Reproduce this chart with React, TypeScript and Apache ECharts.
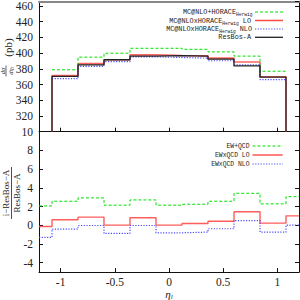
import React, { useEffect, useRef } from 'react';
import * as echarts from 'echarts';

// ---- data ----
const topEdges = [-1.08, -0.84, -0.6, -0.36, -0.12, 0.12, 0.36, 0.6, 0.84, 1.08];
const mcnloPlusHorace = [378.8, 394.9, 399.9, 406.2, 406.2, 404.9, 401.6, 396.2, 377.0];
const mcnloTimesHoraceLO = [371.6, 386.6, 391.6, 397.8, 397.0, 396.5, 393.7, 388.7, 370.0];
const mcnloTimesHoraceNLO = [367.5, 383.2, 389.1, 395.3, 394.4, 393.7, 390.3, 385.0, 366.2];
const resbosA = [370.4, 385.0, 391.6, 396.2, 396.9, 396.2, 392.5, 383.7, 369.5];

const ratioEdges = [-1.2, -1.08, -0.84, -0.6, -0.36, -0.12, 0.12, 0.36, 0.6, 0.84, 1.08, 1.2];
const ewPlusQcd = [2.07, 2.57, 2.93, 2.15, 2.71, 2.15, 2.25, 2.57, 3.42, 2.29, 3.06];
const ewTimesQcdLO = [-0.13, 0.59, 0.87, 0.02, 0.8, 0.02, 0.19, 0.44, 1.44, 0.23, 1.01];
const ewTimesQcdNLO = [-1.3, -0.4, -0.02, -0.87, -0.02, -0.8, -0.73, -0.37, 0.51, -0.73, 0.02];

const xTicks = [-1, -0.5, 0, 0.5, 1];
const topYMin = 300;
const topYMax = 466;
const ratioYTicks = [-4, -2, 0, 2, 4, 6, 8, 10];

const serif = "'Liberation Serif', 'DejaVu Serif', serif";
const mono = "'Liberation Mono', 'DejaVu Sans Mono', monospace";

const GREEN = '#00e000';
const RED = '#ff4a4a';
const BLUE = '#4a4aff';
const BLACK = '#222222';

function stepPoints(edges: number[], values: number[], base?: number) {
  const pts: number[][] = [];
  if (base !== undefined) pts.push([edges[0], base]);
  values.forEach((v, i) => pts.push([edges[i], v]));
  pts.push([edges[values.length], values[values.length - 1]]);
  if (base !== undefined) pts.push([edges[values.length], base]);
  return pts;
}

function legendEntry(y: number, text: string, color: string, dash: any, width: number, x1: number, x2: number, textRight: number, fontSize: number) {
  return [
    {
      type: 'text',
      x: textRight,
      y: y,
      style: {
        text,
        align: 'right',
        verticalAlign: 'middle',
        font: `${fontSize}px ${mono}`,
        fill: '#222',
        rich: {
          s: { fontSize: 4.6, fontFamily: mono, fill: '#222', padding: [5, 0, 0, 0] },
        },
      },
      z: 100,
    },
    {
      type: 'line',
      shape: { x1, y1: y, x2, y2: y },
      style: { stroke: color, lineWidth: width, lineDash: dash },
      z: 100,
    },
  ];
}

export default function App() {
  const ref = useRef<HTMLDivElement>(null);
  useEffect(() => {
    if (!ref.current) return;
    const chart = echarts.init(ref.current, undefined, { renderer: 'svg' });

    const axisLineBlack = { show: true, onZero: false, lineStyle: { color: '#111', width: 1 } };
    const tickStyle = { color: '#111', width: 1 };

    const option: any = {
      animation: false,
      backgroundColor: '#fff',
      grid: [
        { left: 39, right: 1, top: 0, height: 131.7, show: false },
        { left: 39, right: 1, top: 131.7, height: 140.4, show: false },
      ],
      xAxis: [
        {
          gridIndex: 0, type: 'value', min: -1.2, max: 1.2, position: 'bottom',
          axisLine: axisLineBlack,
          axisTick: { show: true, inside: true, length: 4, customValues: xTicks, lineStyle: tickStyle },
          axisLabel: { show: false },
          splitLine: { show: false },
        },
        {
          gridIndex: 0, type: 'value', min: -1.2, max: 1.2, position: 'top',
          axisLine: { show: true, onZero: false, lineStyle: { color: '#888', width: 2 } },
          axisTick: { show: false },
          axisLabel: { show: false },
          splitLine: { show: false },
        },
        {
          gridIndex: 1, type: 'value', min: -1.2, max: 1.2, position: 'bottom',
          axisLine: axisLineBlack,
          axisTick: { show: true, inside: true, length: 4, customValues: xTicks, lineStyle: tickStyle },
          axisLabel: {
            show: true, customValues: xTicks, margin: 4,
            fontFamily: serif, fontSize: 11.5, color: '#222',
            formatter: (v: number) => String(v),
          },
          splitLine: { show: false },
        },
      ],
      yAxis: [
        {
          gridIndex: 0, type: 'value', min: topYMin, max: topYMax, interval: 20, position: 'left',
          axisLine: axisLineBlack,
          axisTick: { show: true, inside: true, length: 4, lineStyle: tickStyle },
          axisLabel: {
            show: true, margin: 6, fontFamily: serif, fontSize: 11.5, color: '#222',
            formatter: (v: number) => (v === topYMin ? '' : String(v)),
          },
          splitLine: { show: false },
        },
        {
          gridIndex: 0, type: 'value', min: topYMin, max: topYMax, interval: 20, position: 'right',
          axisLine: axisLineBlack,
          axisTick: { show: true, inside: true, length: 4, lineStyle: tickStyle },
          axisLabel: { show: false },
          splitLine: { show: false },
        },
        {
          gridIndex: 1, type: 'value', min: -5, max: 10, position: 'left',
          axisLine: axisLineBlack,
          axisTick: { show: true, inside: true, length: 4, customValues: ratioYTicks, lineStyle: tickStyle },
          axisLabel: {
            show: true, customValues: ratioYTicks, margin: 6, fontFamily: serif, fontSize: 11.5, color: '#222',
            formatter: (v: number) => String(v),
          },
          splitLine: { show: false },
        },
        {
          gridIndex: 1, type: 'value', min: -5, max: 10, position: 'right',
          axisLine: axisLineBlack,
          axisTick: { show: true, inside: true, length: 4, customValues: ratioYTicks, lineStyle: tickStyle },
          axisLabel: { show: false },
          splitLine: { show: false },
        },
      ],
      series: [
        {
          type: 'line', xAxisIndex: 0, yAxisIndex: 0, step: 'end', symbol: 'none',
          data: stepPoints(topEdges, mcnloPlusHorace),
          lineStyle: { color: GREEN, width: 1, type: [3, 2] }, z: 3,
        },
        {
          type: 'line', xAxisIndex: 0, yAxisIndex: 0, step: 'end', symbol: 'none',
          data: stepPoints(topEdges, mcnloTimesHoraceLO, topYMin),
          lineStyle: { color: RED, width: 1.6, opacity: 0.85 }, z: 2,
        },
        {
          type: 'line', xAxisIndex: 0, yAxisIndex: 0, step: 'end', symbol: 'none',
          data: stepPoints(topEdges, mcnloTimesHoraceNLO),
          lineStyle: { color: BLUE, width: 1.2, type: [1.2, 1.5] }, z: 3,
        },
        {
          type: 'line', xAxisIndex: 0, yAxisIndex: 0, step: 'end', symbol: 'none',
          data: stepPoints(topEdges, resbosA, topYMin),
          lineStyle: { color: BLACK, width: 1.3 }, z: 4,
        },
        {
          type: 'line', xAxisIndex: 2, yAxisIndex: 2, step: 'end', symbol: 'none',
          data: stepPoints(ratioEdges, ewPlusQcd),
          lineStyle: { color: GREEN, width: 1, type: [3, 2] }, z: 3,
        },
        {
          type: 'line', xAxisIndex: 2, yAxisIndex: 2, step: 'end', symbol: 'none',
          data: stepPoints(ratioEdges, ewTimesQcdLO),
          lineStyle: { color: RED, width: 1.4, opacity: 0.9 }, z: 3,
        },
        {
          type: 'line', xAxisIndex: 2, yAxisIndex: 2, step: 'end', symbol: 'none',
          data: stepPoints(ratioEdges, ewTimesQcdNLO),
          lineStyle: { color: BLUE, width: 1.2, type: [1.2, 1.5] }, z: 3,
        },
      ],
      graphic: [
        // top legend
        ...legendEntry(12, 'MC@NLO+HORACE{s|Herwig}', GREEN, [3, 2], 1, 255, 283, 252.5, 6.8),
        ...legendEntry(20.5, 'MC@NLOxHORACE{s|Herwig} LO', RED, null, 1.5, 255, 283, 251, 6.8),
        ...legendEntry(29, 'MC@NLOxHORACE{s|Herwig} NLO', BLUE, [1.2, 1.5], 1.2, 255, 283, 252, 6.8),
        ...legendEntry(37.3, 'ResBos-A', BLACK, null, 1.3, 255, 283, 251, 6.8),
        // bottom legend
        ...legendEntry(146, 'EW+QCD', GREEN, [3, 2], 1, 252.5, 282.7, 249.5, 6.4),
        ...legendEntry(155, 'EWxQCD LO', RED, null, 1.4, 252.5, 282.7, 249.5, 6.4),
        ...legendEntry(164, 'EWxQCD NLO', BLUE, [1.2, 1.5], 1.2, 252.5, 282.7, 249.5, 6.4),
        // top y title
        {
          type: 'group', x: 6, y: 71, rotation: Math.PI / 2,
          children: [
            {
              type: 'text', x: 0, y: -0.5,
              style: { text: 'dσ', align: 'center', verticalAlign: 'bottom', font: `italic 6.5px ${serif}`, fill: '#222' },
            },
            { type: 'line', shape: { x1: -5.5, y1: 0, x2: 5.5, y2: 0 }, style: { stroke: '#222', lineWidth: 0.7 } },
            {
              type: 'text', x: 0, y: 0.5,
              style: {
                text: 'dη{s|l}', align: 'center', verticalAlign: 'top', font: `italic 6.5px ${serif}`, fill: '#222',
                rich: { s: { fontSize: 4.5, fontStyle: 'italic', fontFamily: serif, fill: '#222', padding: [3, 0, 0, 0] } },
              },
            },
            {
              type: 'text', x: 23.5, y: 1.5,
              style: { text: '(pb)', align: 'center', verticalAlign: 'middle', font: `11px ${serif}`, fill: '#222' },
            },
          ],
        },
        // bottom y title
        {
          type: 'group', x: 11.5, y: 193, rotation: Math.PI / 2,
          children: [
            {
              type: 'text', x: 0, y: -0.7,
              style: { text: 'i−ResBos−A', align: 'center', verticalAlign: 'bottom', font: `9px ${serif}`, fill: '#222' },
            },
            { type: 'line', shape: { x1: -26, y1: 0, x2: 26, y2: 0 }, style: { stroke: '#222', lineWidth: 0.8 } },
            {
              type: 'text', x: 0, y: 0.7,
              style: { text: 'ResBos−A', align: 'center', verticalAlign: 'top', font: `9px ${serif}`, fill: '#222' },
            },
          ],
        },
        // x title
        {
          type: 'text', x: 169, y: 294,
          style: {
            text: 'η{s|l}', align: 'center', verticalAlign: 'middle', font: `italic 11px ${serif}`, fill: '#222',
            rich: { s: { fontSize: 7, fontStyle: 'italic', fontFamily: serif, fill: '#222', padding: [5, 0, 0, 0] } },
          },
        },
      ],
    };

    chart.setOption(option);
    return () => chart.dispose();
  }, []);

  return (
    <div
      ref={ref}
      style={{ position: 'fixed', left: 0, top: 0, width: 300, height: 300, background: '#fff' }}
    />
  );
}
